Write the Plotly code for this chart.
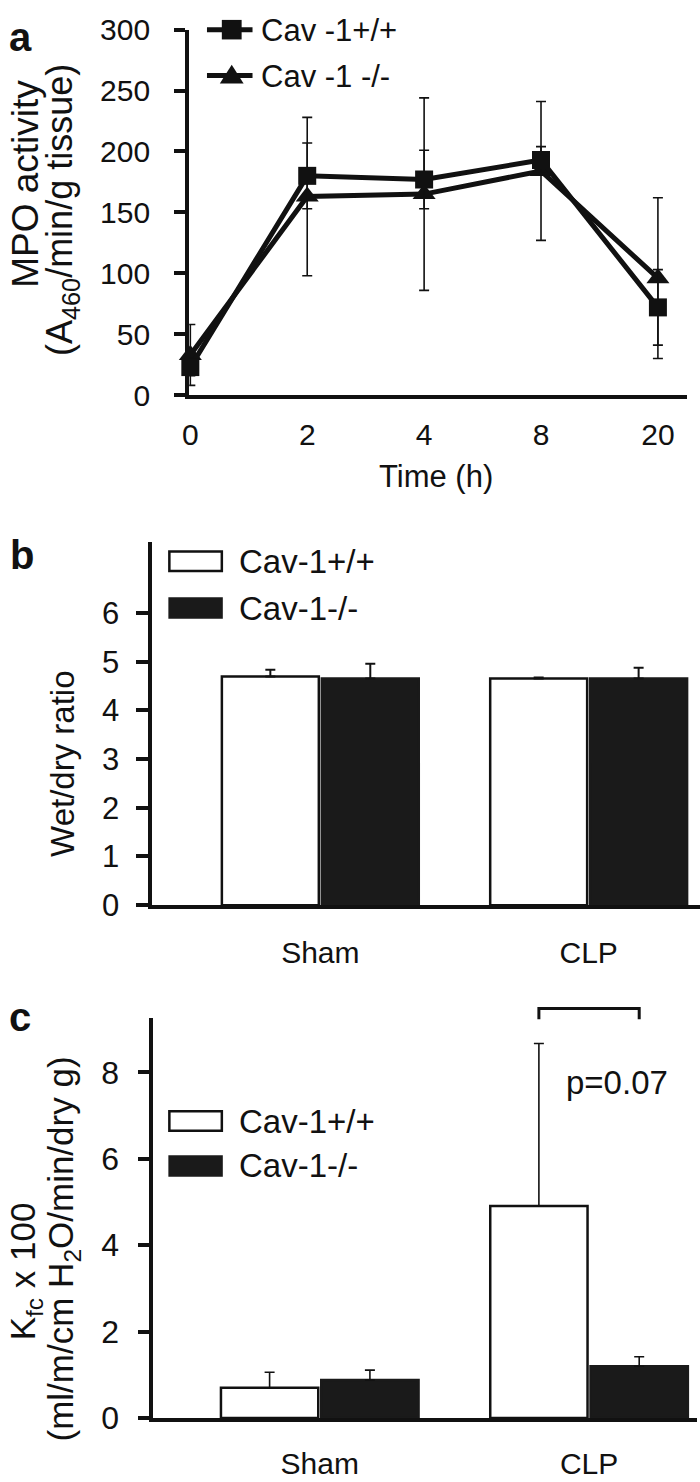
import plotly.graph_objects as go

# ---------------- data ----------------
time_labels = ["0", "2", "4", "8", "20"]
mpo_wt = [23, 180, 177, 193, 72]
mpo_wt_err = [7, 27, 24, 11, 31]
mpo_ko = [33, 163, 165, 184, 96]
mpo_ko_err = [25, 65, 79, 57, 66]

groups = ["Sham", "CLP"]
wd_wt = [4.70, 4.66]
wd_wt_err = [0.14, 0.02]
wd_ko = [4.66, 4.66]
wd_ko_err = [0.30, 0.22]

kfc_wt = [0.70, 4.91]
kfc_wt_err = [0.36, 3.76]
kfc_ko = [0.88, 1.20]
kfc_ko_err = [0.23, 0.22]

bracket_y = [9.23, 9.48]
p_text = "p=0.07"

# ---------------- layout helpers ----------------
W, H = 700, 1482
FONT = "Liberation Sans, Arial, Helvetica, sans-serif"
BLACK = "#111111"
DARK = "#1a1a1a"


def px(x):
    return x / W


def py(y):
    return (H - y) / H


BARGAP = 0.255
BARGROUPGAP = 0.03
offset = (1 - BARGAP) / 4.0
gx = list(range(len(groups)))

# panel c vertical scale (pixels) so that an invisible companion axis shares it
C_ZERO, C_TOP, C_MAX = 1435, 1026, 9.25
C_EXT_TOP = 1006
c_ppu = (C_ZERO - C_TOP) / C_MAX
c_ext_max = (C_ZERO - C_EXT_TOP) / c_ppu

fig = go.Figure()

# ---------------- panel a ----------------
fig.add_trace(go.Scatter(
    x=time_labels, y=mpo_ko, mode="lines+markers",
    line=dict(color=BLACK, width=5),
    marker=dict(symbol="triangle-up", size=20, color=BLACK),
    error_y=dict(type="data", array=mpo_ko_err, color=BLACK, thickness=1.6, width=5),
    xaxis="x", yaxis="y", showlegend=False, cliponaxis=False,
))
fig.add_trace(go.Scatter(
    x=time_labels, y=mpo_wt, mode="lines+markers",
    line=dict(color=BLACK, width=5),
    marker=dict(symbol="square", size=18, color=BLACK),
    error_y=dict(type="data", array=mpo_wt_err, color=BLACK, thickness=1.6, width=5),
    xaxis="x", yaxis="y", showlegend=False, cliponaxis=False,
))

# ---------------- panel b ----------------
fig.add_trace(go.Bar(
    x=gx, y=wd_wt, marker=dict(color="white", line=dict(color=BLACK, width=2.5)),
    error_y=dict(type="data", symmetric=False, array=wd_wt_err, arrayminus=[0] * len(groups),
                 color=BLACK, thickness=2, width=5),
    xaxis="x2", yaxis="y2", showlegend=False,
))
fig.add_trace(go.Bar(
    x=gx, y=wd_ko, marker=dict(color=DARK, line=dict(color=DARK, width=2.5)),
    error_y=dict(type="data", symmetric=False, array=wd_ko_err, arrayminus=[0] * len(groups),
                 color=BLACK, thickness=2, width=5),
    xaxis="x2", yaxis="y2", showlegend=False,
))

# ---------------- panel c ----------------
fig.add_trace(go.Bar(
    x=gx, y=kfc_wt, marker=dict(color="white", line=dict(color=BLACK, width=2.5)),
    error_y=dict(type="data", symmetric=False, array=kfc_wt_err, arrayminus=[0] * len(groups),
                 color=BLACK, thickness=1.6, width=5),
    xaxis="x3", yaxis="y3", showlegend=False,
))
fig.add_trace(go.Bar(
    x=gx, y=kfc_ko, marker=dict(color=DARK, line=dict(color=DARK, width=2.5)),
    error_y=dict(type="data", symmetric=False, array=kfc_ko_err, arrayminus=[0] * len(groups),
                 color=BLACK, thickness=1.6, width=5),
    xaxis="x3", yaxis="y3", showlegend=False,
))
# significance bracket between CLP bars (on an invisible axis with the same scale, taller domain)
clp = groups.index("CLP")
fig.add_trace(go.Scatter(
    x=[clp - offset, clp - offset, clp + offset, clp + offset],
    y=[bracket_y[0], bracket_y[1], bracket_y[1], bracket_y[0]],
    mode="lines", line=dict(color=BLACK, width=3),
    xaxis="x3", yaxis="y4", showlegend=False, hoverinfo="skip",
))

axis_common = dict(showgrid=False, zeroline=False, showline=True, linecolor=BLACK,
                   linewidth=4, color=BLACK)

fig.update_layout(
    width=W, height=H,
    margin=dict(l=0, r=0, t=0, b=0),
    paper_bgcolor="white", plot_bgcolor="rgba(0,0,0,0)",
    font=dict(family=FONT, color=BLACK),
    barmode="group", bargap=BARGAP, bargroupgap=BARGROUPGAP,
    xaxis=dict(domain=[px(184), px(687)], type="category", range=[-0.01, 4.25],
               ticks="", tickfont=dict(size=30), anchor="y", ticklabelstandoff=10,
               **axis_common),
    yaxis=dict(domain=[py(388), py(14)], range=[0, 300], tickvals=[0, 50, 100, 150, 200, 250, 300],
               ticks="outside", ticklen=11, tickwidth=4, tickcolor=BLACK,
               tickfont=dict(size=30), anchor="x", ticklabelstandoff=18,
               ticklabeloverflow="allow", **axis_common),
    xaxis2=dict(domain=[px(146), px(700)], range=[-0.629, 1.415], tickvals=gx, ticktext=groups,
                ticks="", tickfont=dict(size=30), anchor="y2", ticklabelstandoff=18,
                **axis_common),
    yaxis2=dict(domain=[py(910), py(538)], range=[0, 7.47], tickvals=[0, 1, 2, 3, 4, 5, 6],
                ticks="outside", ticklen=12, tickwidth=4, tickcolor=BLACK,
                tickfont=dict(size=31), anchor="x2", ticklabelstandoff=10,
                ticklabeloverflow="allow", **axis_common),
    xaxis3=dict(domain=[px(147), px(697)], range=[-0.621, 1.401], tickvals=gx, ticktext=groups,
                ticks="", tickfont=dict(size=30), anchor="y3", ticklabelstandoff=16,
                ticklabeloverflow="allow", **axis_common),
    yaxis3=dict(domain=[py(C_ZERO), py(C_TOP)], range=[0, C_MAX], tickvals=[0, 2, 4, 6, 8],
                ticks="outside", ticklen=11, tickwidth=4, tickcolor=BLACK,
                tickfont=dict(size=32), anchor="x3", ticklabelstandoff=12,
                ticklabeloverflow="allow", **axis_common),
    yaxis4=dict(domain=[py(C_ZERO), py(C_EXT_TOP)], range=[0, c_ext_max], visible=False,
                showgrid=False, zeroline=False, anchor="x3"),
)

ann = []
def text(x, y, s, size, angle=0, xanchor="center"):
    ann.append(dict(x=px(x), y=py(y), xref="paper", yref="paper", text=s, showarrow=False,
                    textangle=angle, xanchor=xanchor, yanchor="middle",
                    font=dict(size=size, family=FONT, color=BLACK)))

# panel letters
text(14, 21, "<b>a</b>", 40)
text(15, 552, "<b>b</b>", 40)
text(13, 1025, "<b>c</b>", 40)

# axis titles
text(18, 172, "MPO activity", 37, angle=-90)
text(56, 198, "(A<sub>460</sub>/min/g tissue)", 36, angle=-90)
text(433, 471, "Time (h)", 31)
text(56, 765, "Wet/dry ratio", 33, angle=-90)
text(18, 1285, "K<sub>fc</sub> x 100", 35, angle=-90)
text(57, 1262, "(ml/m/cm H<sub>2</sub>O/min/dry g)", 35, angle=-90)

# p value
ann.append(dict(x=clp + offset * 0.55, y=7.76, xref="x3", yref="y3", text=p_text, showarrow=False,
                xanchor="center", yanchor="middle", font=dict(size=33, family=FONT, color=BLACK)))

# legends (panel a)
shapes = []
for yc, sym, lab in [(14, "square", "Cav -1+/+"), (61, "triangle", "Cav -1 -/-")]:
    shapes.append(dict(type="line", xref="paper", yref="paper", x0=px(202), x1=px(248),
                       y0=py(yc), y1=py(yc), line=dict(color=BLACK, width=5)))
    if sym == "square":
        shapes.append(dict(type="rect", xref="paper", yref="paper", x0=px(217), x1=px(237),
                           y0=py(yc + 10), y1=py(yc - 10), fillcolor=BLACK, line=dict(width=0)))
    else:
        shapes.append(dict(type="path", xref="paper", yref="paper",
                           path=f"M {px(215)},{py(yc + 8)} L {px(239)},{py(yc + 8)} L {px(227)},{py(yc - 11)} Z",
                           fillcolor=BLACK, line=dict(width=0)))
    text(255, yc + 1, lab, 31, xanchor="left")

# legends (panels b, c)
for (y1, y2) in [(558, 606), (1131, 1177)]:
    shapes.append(dict(type="rect", xref="paper", yref="paper", x0=px(164), x1=px(217),
                       y0=py(y1 + 10), y1=py(y1 - 10), fillcolor="white",
                       line=dict(color=BLACK, width=2.5)))
    shapes.append(dict(type="rect", xref="paper", yref="paper", x0=px(163), x1=px(218),
                       y0=py(y2 + 11), y1=py(y2 - 11), fillcolor=DARK, line=dict(width=0)))
    text(232, y1, "Cav-1+/+", 33, xanchor="left")
    text(232, y2, "Cav-1-/-", 33, xanchor="left")

fig.update_layout(annotations=ann, shapes=shapes)

fig.write_html("out.html", config={"displayModeBar": False},
               post_script="document.body.style.margin='0';document.body.style.padding='0';")
